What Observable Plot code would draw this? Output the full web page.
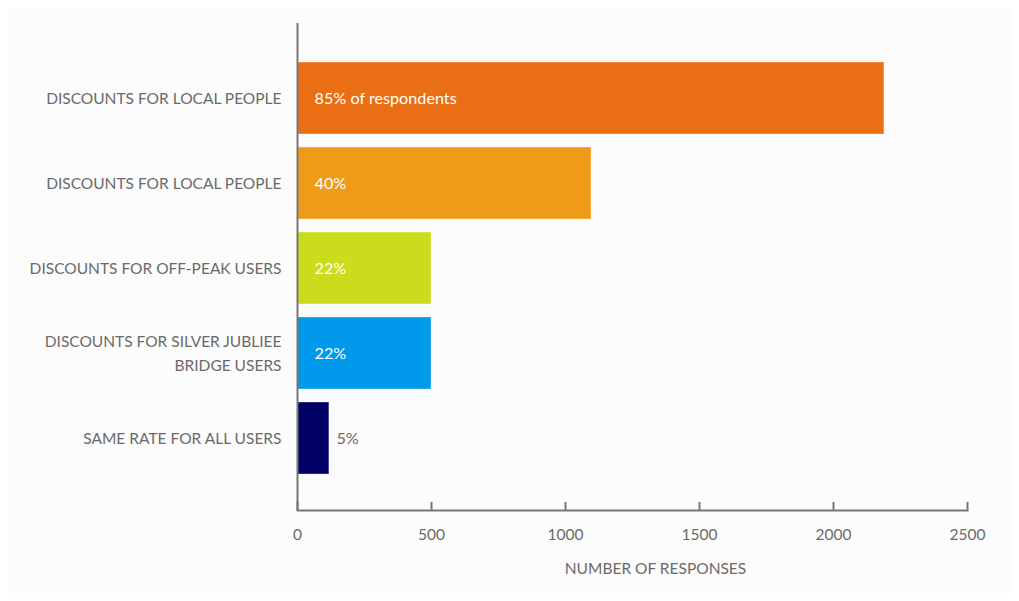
<!DOCTYPE html>
<html>
<head>
<meta charset="utf-8">
<script src="https://cdn.jsdelivr.net/npm/d3@7"></script>
<script src="https://cdn.jsdelivr.net/npm/@observablehq/plot@0.6"></script>
<style>
  html, body { margin: 0; padding: 0; background: #ffffff; }
  #chart { padding: 8px; }
  #chart svg { display: block; }
</style>
</head>
<body>
<div id="chart"></div>
<script>
const ids = ["a", "b", "c", "d", "e"];
const labels = [
  "DISCOUNTS FOR LOCAL PEOPLE",
  "DISCOUNTS FOR LOCAL PEOPLE",
  "DISCOUNTS FOR OFF-PEAK USERS",
  "DISCOUNTS FOR SILVER JUBLIEE\nBRIDGE USERS",
  "SAME RATE FOR ALL USERS"
];
const responses = [2190, 1097, 500, 500, 119];
const shares = ["85% of respondents", "40%", "22%", "22%", "5%"];
const colors = ["#e96e14", "#f09b18", "#cbdc1c", "#0099ec", "#000066"];
const inside = [true, true, true, true, false];
const xTicks = [0, 500, 1000, 1500, 2000, 2500];
const xTitle = "NUMBER OF RESPONSES";

const data = ids.map((id, i) => ({id, label: labels[i], value: responses[i], share: shares[i], color: colors[i], inside: inside[i]}));
const labelOf = new Map(data.map(d => [d.id, d.label]));

const gray = "#6a6a6a";

const chart = Plot.plot({
  width: 1003,
  height: 585,
  marginLeft: 289,
  marginRight: 44,
  marginTop: 15,
  marginBottom: 83,
  style: {background: "#fcfcfc", fontFamily: "Lato, 'Open Sans', sans-serif", fontSize: "15px", color: gray},
  x: {domain: [0, 2500], ticks: xTicks},
  y: {domain: ids, paddingInner: 0.158, paddingOuter: 0.427, align: 0.52},
  marks: [
    Plot.barX(data, {
      y: "id", x: "value",
      fill: d => d.color,
      stroke: "white", strokeOpacity: 0.35, strokeWidth: 1
    }),
    Plot.text(data.filter(d => d.inside), {
      y: "id", x: 0, text: "share",
      textAnchor: "start", dx: 17, fill: "white", fontSize: 16.2
    }),
    Plot.text(data.filter(d => !d.inside), {
      y: "id", x: "value", text: "share",
      textAnchor: "start", dx: 7, fill: gray, fontSize: 16.2
    }),
    Plot.ruleX([0], {stroke: "#777", strokeWidth: 2}),
    Plot.frame({anchor: "bottom", stroke: "#777", strokeWidth: 2}),
    Plot.axisX({
      ticks: xTicks, tickSize: -8, tickPadding: 26, stroke: "#777", strokeWidth: 2,
      tickFormat: d => String(d), label: null, fill: gray, fontSize: 15.5
    }),
    Plot.axisY({
      tickSize: 0, tickPadding: 16, tickFormat: d => labelOf.get(d),
      label: null, fill: gray, fontSize: 15.5, lineHeight: 1.5, dy: -2
    }),
    Plot.text([xTitle], {
      frameAnchor: "bottom", dx: 23, dy: 63, fill: gray, fontSize: 15.5
    })
  ]
});
document.getElementById("chart").appendChild(chart);
</script>
</body>
</html>
